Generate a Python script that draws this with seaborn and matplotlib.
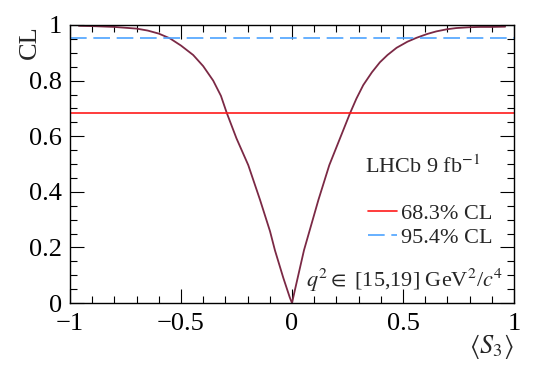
import numpy as np
import pandas as pd
import matplotlib
matplotlib.use('Agg')
import matplotlib.pyplot as plt
import seaborn as sns
from matplotlib.ticker import MultipleLocator

# data
s3 = [-0.96, -0.9, -0.8, -0.7, -0.65, -0.6, -0.55, -0.5, -0.445, -0.4, -0.355,
      -0.32, -0.294, -0.25, -0.197, -0.144, -0.099, -0.077, -0.039, -0.01, 0.0,
      0.014, 0.054, 0.119, 0.168, 0.215, 0.261, 0.29, 0.321, 0.36, 0.396, 0.43,
      0.471, 0.52, 0.561, 0.61, 0.65, 0.7, 0.74, 0.8, 0.847, 0.9, 0.96]
cl = [0.997, 0.996, 0.993, 0.987, 0.980, 0.969, 0.952, 0.926, 0.892, 0.852, 0.800,
      0.745, 0.684, 0.592, 0.496, 0.371, 0.258, 0.19, 0.09, 0.02, 0.0,
      0.05, 0.19, 0.371, 0.496, 0.59, 0.682, 0.735, 0.784, 0.830, 0.866, 0.892,
      0.918, 0.940, 0.954, 0.968, 0.977, 0.985, 0.989, 0.992, 0.993, 0.993, 0.994]
cl_levels = [0.683, 0.954]
cl_labels = ['68.3% CL', '95.4% CL']

df = pd.DataFrame({'S3': s3, 'CL': cl})

sns.set_theme(style="ticks")
plt.rcParams['font.family'] = ['Liberation Serif', 'DejaVu Serif']
plt.rcParams['mathtext.fontset'] = 'stix'

fig = plt.figure(figsize=(5.4, 3.66), dpi=100)
ax = fig.add_axes([0.1296, 0.1721, 0.8223, 0.7596])

sns.lineplot(data=df, x='S3', y='CL', ax=ax, color='#7b2945', lw=1.3, sort=False)
h1 = ax.axhline(cl_levels[0], color='#ff1a1a', lw=1.2, label=cl_labels[0])
h2 = ax.axhline(cl_levels[1], color='#4da3ff', lw=1.2, ls=(0, (10, 4)), label=cl_labels[1])

ax.set_xlim(-1, 1)
ax.set_ylim(0, 1)
ax.set_xticks([-1, -0.5, 0, 0.5, 1])
ax.set_xticklabels(['\u22121', '\u22120.5', '0', '0.5', '1'])
ax.set_yticks([0, 0.2, 0.4, 0.6, 0.8, 1])
ax.set_yticklabels(['0', '0.2', '0.4', '0.6', '0.8', '1'])
ax.xaxis.set_minor_locator(MultipleLocator(0.1))
ax.yaxis.set_minor_locator(MultipleLocator(0.05))
ax.tick_params(which='both', direction='in', top=True, right=True, colors='black',
               labelsize=19, width=0.8)
ax.tick_params(which='major', length=10, pad=6)
ax.tick_params(which='minor', length=5)
ax.tick_params(axis='x', which='major', pad=7)
for sp in ax.spines.values():
    sp.set_color('black')
    sp.set_linewidth(1.0)

ax.set_xlabel(r'$\langle S_3\rangle$', fontsize=19)
ax.xaxis.set_label_coords(1.0, -0.105)
ax.xaxis.label.set_horizontalalignment('right')
ax.set_ylabel('CL', fontsize=19)
ax.yaxis.set_label_coords(-0.115, 1.0)
ax.yaxis.label.set_verticalalignment('top')
ax.yaxis.label.set_horizontalalignment('right')

ax.text(0.664, 0.468, r'LHCb 9 fb$^{-1}$', transform=ax.transAxes, fontsize=16,
        va='baseline')
ax.legend(handles=[h1, h2], loc='center left', bbox_to_anchor=(0.671, 0.279),
          frameon=False, fontsize=16, handlelength=1.3, handletextpad=0.2,
          labelspacing=0.15, borderaxespad=0, borderpad=0)
ax.text(0.975, 0.058, r'$q^2 \in$ [15,19] GeV$^2$/$c^4$', transform=ax.transAxes,
        fontsize=16, ha='right', va='baseline')

fig.savefig('out.png', dpi=100)
